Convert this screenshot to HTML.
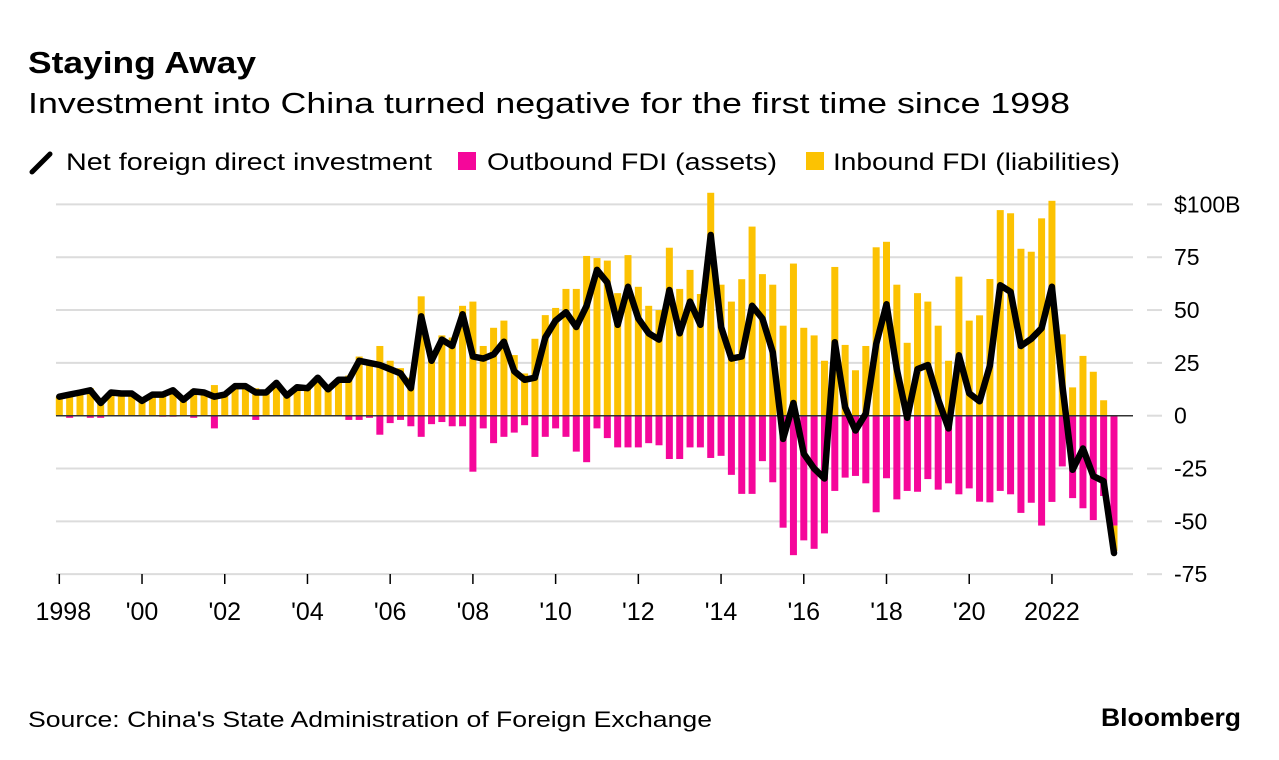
<!DOCTYPE html>
<html><head><meta charset="utf-8"><style>
body{margin:0;background:#fff;}
svg{display:block;font-family:"Liberation Sans",sans-serif;}
</style></head><body>
<svg id="chart" width="1279" height="760" viewBox="0 0 1279 760" xmlns="http://www.w3.org/2000/svg">
<text x="28" y="73" font-size="31" font-weight="bold" fill="#000" textLength="228" lengthAdjust="spacingAndGlyphs">Staying Away</text>
<text x="28" y="113" font-size="29" fill="#000" textLength="1042" lengthAdjust="spacingAndGlyphs">Investment into China turned negative for the first time since 1998</text>
<g>
<line x1="32" y1="172" x2="50" y2="154" stroke="#000" stroke-width="5" stroke-linecap="round"/>
<text x="66" y="170" font-size="24" textLength="366" lengthAdjust="spacingAndGlyphs">Net foreign direct investment</text>
<rect x="458" y="152" width="18" height="18" fill="#f5079a"/>
<text x="487" y="170" font-size="24" textLength="290" lengthAdjust="spacingAndGlyphs">Outbound FDI (assets)</text>
<rect x="806" y="152" width="18" height="18" fill="#fcc202"/>
<text x="833" y="170" font-size="24" textLength="287" lengthAdjust="spacingAndGlyphs">Inbound FDI (liabilities)</text>
</g>
<g id="grid"></g>
<g id="bars"></g>
<g id="zero"></g>
<g id="line"></g>
<g id="xaxis"></g>
<g id="yaxis"></g>
<text x="28" y="727" font-size="22" fill="#000" textLength="684" lengthAdjust="spacingAndGlyphs">Source: China's State Administration of Foreign Exchange</text>
<text x="1241" y="726" font-size="25" font-weight="bold" text-anchor="end" fill="#000" textLength="140" lengthAdjust="spacingAndGlyphs">Bloomberg</text>
</svg>
<script>
const inbound = [9,11,11,13,7,11,10.5,10.5,7,10,10,12.5,7.5,12.5,11,14.5,10,14,14,13,11,15.5,9,13.5,13,18,12.5,17,19,28,26,33,26,22.5,18,56.5,30,38,37,52,54,33,41.6,45,28.7,20,36.4,47.6,51,60,60,75.6,74.6,73.4,58,76,61,52,50,79.5,60,69,57.6,105.5,62,54,64.6,89.5,67,62,42.6,72,41.6,38,26,70.4,33.5,21.5,33,79.7,82.3,62,34.5,58,54,42.6,26,65.8,45,47.5,64.7,97.3,95.8,79,77.6,93.4,101.7,38.5,13.4,28.3,20.8,7.3,-12];
const outbound = [0,-1,0,-1,-1,0,0,0,0,0,-0.5,-0.5,0,-1,0,-6,0,0,0,-2,0,0,0.5,0,0,0,0,0,-2,-2,-1,-9,-3.5,-2,-5,-10,-4,-3,-5,-5,-26.5,-6,-13,-10,-8,-4.5,-19.5,-10,-6,-10,-17,-22,-6,-10.6,-15,-15,-15,-13,-14,-20.5,-20.5,-15,-15,-20,-19,-28,-37,-37,-21.5,-31.5,-53,-66,-59,-63,-55.7,-35.6,-29.3,-28.5,-32,-45.7,-29.6,-39.6,-35.6,-36,-30,-35,-32,-37.2,-34.4,-40.7,-41,-35.6,-37.2,-46,-41.2,-52,-40.8,-24,-39,-43.8,-49.4,-38,-52];
const net = [9,10,11,12,6,11,10.5,10.5,7,10,10,12,7.5,11.5,11,9,10,14,14,11,11,15.5,9.5,13.5,13,18,12.5,17,17,26,25,24,22,20,13,47,26,36,33,48,28,27,29,35,21,17,18,37,45,49,42,52,69,63,43,61,46,39,36,59.5,39,54,43,85.5,42,27,28,52,46,30,-11,6,-18,-25,-29.7,34.8,4,-7,1,34,52.7,22,-1,22,24,7.6,-6,28.6,10.6,6.8,23.7,61.7,58.6,33,36.4,41.4,61,14.5,-25.6,-15.5,-28.6,-31,-65];
const yTicks = [100,75,50,25,0,-25,-50,-75];
const yTickLabels = ["$100B","75","50","25","0","-25","-50","-75"];
const xTickYears = [1998,2000,2002,2004,2006,2008,2010,2012,2014,2016,2018,2020,2022];
const xTickLabels = ["1998","'00","'02","'04","'06","'08","'10","'12","'14","'16","'18","'20","2022"];

const NS="http://www.w3.org/2000/svg";
function yScale(v){return 415.7 - v*2.113;}
function xQ(i){return 59.3 + i*10.34;}
function xYear(y){return 59.3 + (y-1998)*41.36;}
function mk(tag,attrs,parent){const e=document.createElementNS(NS,tag);for(const k in attrs)e.setAttribute(k,attrs[k]);parent.appendChild(e);return e;}

const grid=document.getElementById('grid'), yaxis=document.getElementById('yaxis');
yTicks.forEach((t,k)=>{
  const y=yScale(t);
  if(t!==0){
    const g=mk('line',{x1:56,x2:1133,y1:y,y2:y,stroke:'#dcdcdc','stroke-width':2},grid);
    
    
  }
  const s=mk('line',{x1:1147,x2:1162,y1:y,y2:y,stroke:'#dcdcdc','stroke-width':2},grid);
  
  
  const tx=mk('text',{x:1174,y:y+8,'font-size':23,fill:'#000'},yaxis);
  tx.textContent=yTickLabels[k];
  
  
});
const bars=document.getElementById('bars');
const bw=7;
for(let i=0;i<inbound.length;i++){
  const x=xQ(i)-bw/2;
  const o=outbound[i], n=inbound[i];
  const oy0=yScale(0), oy1=yScale(o);
  const ro=mk('rect',{x:x,y:Math.min(oy0,oy1),width:bw,height:Math.abs(oy1-oy0),fill:'#f5079a'},bars);
  
  
  let base = n>=0 ? 0 : Math.min(o,0);
  const iy0=yScale(base), iy1=yScale(base+n);
  const ri=mk('rect',{x:x,y:Math.min(iy0,iy1),width:bw,height:Math.abs(iy1-iy0),fill:'#fcc202'},bars);
  
  
}
const z=mk('line',{x1:56,x2:1133,y1:yScale(0),y2:yScale(0),stroke:'#333','stroke-width':1.5},document.getElementById('zero'));


const pts=net.map((v,i)=>xQ(i).toFixed(1)+','+yScale(v).toFixed(1)).join(' ');
const pl=mk('polyline',{points:pts,fill:'none',stroke:'#000','stroke-width':6.5,'stroke-linejoin':'round','stroke-linecap':'round'},document.getElementById('line'));


const xa=document.getElementById('xaxis');
xTickYears.forEach((yr,k)=>{
  const x=xYear(yr);
  const t=mk('line',{x1:x,x2:x,y1:574,y2:584,stroke:'#000','stroke-width':1.5},xa);
  
  
  const l=mk('text',{x:x+(k===0?4:0),y:620,'font-size':25,'text-anchor':'middle',fill:'#000'},xa);
  l.textContent=xTickLabels[k];
  
  
});
</script>
</body></html>
